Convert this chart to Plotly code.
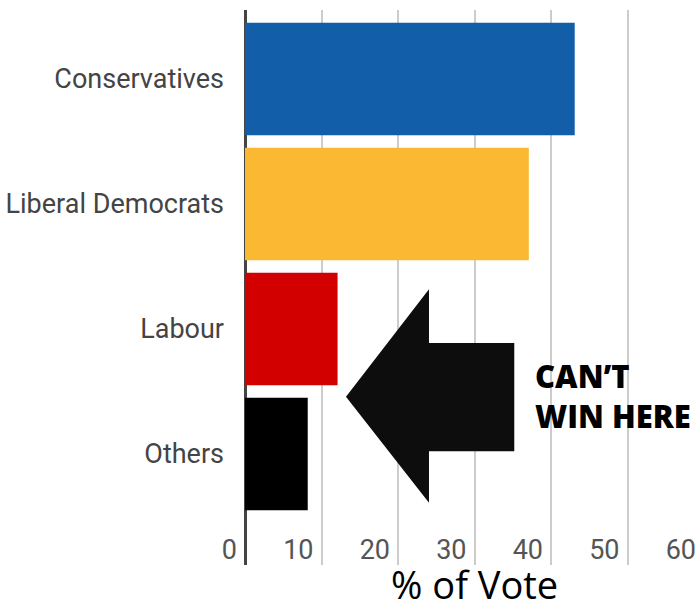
import plotly.graph_objects as go

parties = ["Conservatives", "Liberal Democrats", "Labour", "Others"]
vote_share = [43.1, 37.1, 12.1, 8.2]
bar_colors = ["#135EA8", "#FBB933", "#D30000", "#000000"]
x_ticks = [0, 10, 20, 30, 40, 50, 60]
x_title = "% of Vote"
callout = "CAN’T<br>WIN HERE"

fig = go.Figure()
fig.add_trace(go.Bar(
    y=parties, x=vote_share, orientation="h",
    marker=dict(color=bar_colors, line=dict(width=0)),
    hoverinfo="skip",
))
# invisible helper trace so the tick-label axis (x2) is drawn
fig.add_trace(go.Scatter(x=[0], y=[parties[0]], xaxis="x2", yaxis="y",
                         mode="markers", marker=dict(opacity=0),
                         hoverinfo="skip", showlegend=False))

# big left-pointing arrow (decoration), x in data units, y in paper units
arrow_path = ("M 13.2 0.303 L 24.05 0.497 L 24.05 0.400 L 35.2 0.400 "
              "L 35.2 0.205 L 24.05 0.205 L 24.05 0.112 Z")
fig.add_shape(type="path", path=arrow_path, xref="x", yref="paper",
              fillcolor="#0d0d0d", line=dict(width=0), layer="above")

fig.add_annotation(text=callout, x=37.6, y=0.304, xref="x", yref="paper",
                   xanchor="left", yanchor="middle", align="left", showarrow=False,
                   font=dict(family="Open Sans", size=31, color="#000000", weight=800))

# x-axis title placed as a paper annotation below the plot area
fig.add_annotation(text=x_title, x=0.5, y=-0.035, xref="paper", yref="paper",
                   xanchor="center", yanchor="middle", showarrow=False,
                   font=dict(family="Open Sans", size=38, color="#000000"))

fig.update_layout(
    width=706, height=600,
    margin=dict(l=245, r=2, t=10, b=35, autoexpand=False),
    plot_bgcolor="white", paper_bgcolor="white",
    showlegend=False, bargap=0.1,
    xaxis=dict(
        range=[0, 60], tickvals=x_ticks, showticklabels=False,
        showgrid=True, gridcolor="#cccccc", gridwidth=2,
        zeroline=True, zerolinecolor="#444444", zerolinewidth=3,
        showline=False, ticks="", automargin=False,
    ),
    xaxis2=dict(
        overlaying="x", anchor="free", position=0.062, side="bottom",
        range=[0, 60], tickvals=x_ticks, ticktext=[str(v) for v in x_ticks],
        ticklabelposition="outside left", ticklabelshift=-8,
        tickfont=dict(family="Roboto", size=27, color="#555555"),
        showgrid=False, zeroline=False, showline=False, ticks="", automargin=False,
    ),
    yaxis=dict(
        categoryorder="array", categoryarray=parties,
        range=[3.888, -0.552], automargin=False,
        tickfont=dict(family="Roboto", size=27, color="#444444"),
        ticklabelstandoff=20, showgrid=False, showline=False, ticks="",
    ),
)

fig.write_html("out.html", config={"displayModeBar": False},
               post_script="document.body.style.margin='0';document.body.style.overflow='hidden';")
